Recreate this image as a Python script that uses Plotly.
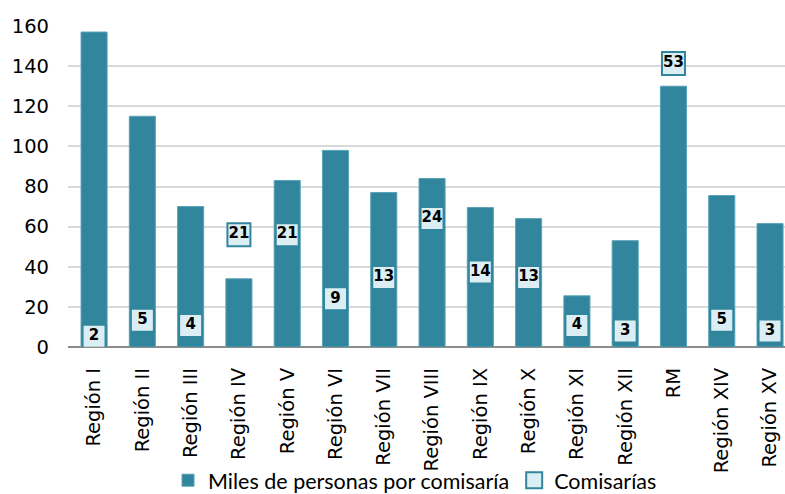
import plotly.graph_objects as go

regiones = ["Región I", "Región II", "Región III", "Región IV", "Región V", "Región VI",
            "Región VII", "Región VIII", "Región IX", "Región X", "Región XI", "Región XII",
            "RM", "Región XIV", "Región XV"]
miles_por_comisaria = [157, 115, 70, 34, 83, 98, 77, 84, 69.5, 64, 25.5, 53, 130, 75.5, 61.5]
comisarias = [2, 5, 4, 21, 21, 9, 13, 24, 14, 13, 4, 3, 53, 5, 3]
y_ticks = [0, 20, 40, 60, 80, 100, 120, 140, 160]

teal = "#31859c"
light = "#dbeef4"
lab_font = "'DejaVu Sans', sans-serif"
leg_font = "Lato, 'Open Sans', sans-serif"

fig = go.Figure()
fig.add_trace(go.Bar(
    x=regiones, y=miles_por_comisaria, name="Miles de personas por comisaría",
    marker=dict(color=teal, line=dict(color="#5aa3b8", width=1)), width=0.54,
))
fig.add_trace(go.Scatter(
    x=regiones, y=comisarias, name="Comisarías", yaxis="y2",
    mode="markers+text", text=[str(v) for v in comisarias], textposition="middle center",
    textfont=dict(family=lab_font, size=15, color="black", weight="bold"),
    marker=dict(symbol="square", size=23, color=light, line=dict(color=teal, width=2)),
))

fig.update_layout(
    width=785, height=494,
    margin=dict(l=68, r=0, t=26, b=147, autoexpand=False),
    paper_bgcolor="white", plot_bgcolor="white",
    font=dict(family=lab_font, size=16, color="black"),
    showlegend=True,
    legend=dict(orientation="h", x=0.484, xanchor="center", y=-0.415, yanchor="middle",
                font=dict(family=leg_font, size=21.5), itemwidth=30,
                bgcolor="rgba(0,0,0,0)"),
    xaxis=dict(type="category", range=[-0.54, 14.31], tickangle=-90, showgrid=False,
               showline=False, ticks="", tickfont=dict(size=19.5), automargin=False,
               ticklabelstandoff=16),
    yaxis=dict(range=[0, 160], tickvals=y_ticks, showgrid=True, gridcolor="#d9d9d9",
               gridwidth=2, zeroline=True, zerolinecolor="#8c8c8c", zerolinewidth=2,
               ticks="", tickfont=dict(size=19.5), showline=False, automargin=False,
               ticklabelstandoff=18),
    yaxis2=dict(range=[0, 60], overlaying="y", side="right", visible=False),
)

fig.write_html("out.html", config={"displayModeBar": False},
               post_script="document.body.style.margin='0';")
